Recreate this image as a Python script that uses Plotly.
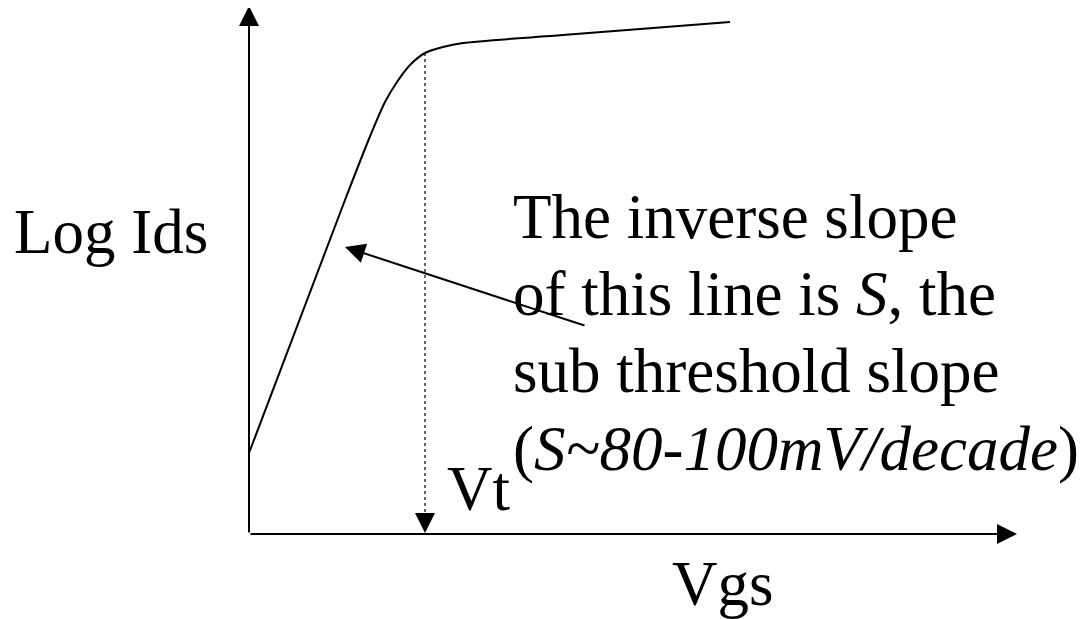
import plotly.graph_objects as go

# Schematic data (pixel-like units, origin at the axes corner)
vgs = [0, 96, 122, 136, 148, 161, 176, 194, 214, 314, 481]
log_ids = [81, 334, 400, 432, 452, 469, 481, 487, 491, 499, 512]
vt_x = 176
vt_top = 481

x_axis_end = 768
y_axis_end = 528

FONT = "Liberation Serif, Times New Roman, serif"
FS = 63
OX, OY = 249, 534   # page pixel position of origin
PAGE_OFF = 8        # default body margin of the html page
W, H = 1086 - PAGE_OFF, 619 - PAGE_OFF


def px(xp):
    return xp - OX


def py(yp):
    return OY - yp


fig = go.Figure()

# main curve
fig.add_trace(go.Scatter(x=vgs, y=log_ids, mode="lines",
                         line=dict(color="black", width=2, shape="spline", smoothing=0.8),
                         hoverinfo="skip"))
# dotted Vt line
fig.add_trace(go.Scatter(x=[vt_x, vt_x], y=[vt_top, 20], mode="lines",
                         line=dict(color="black", width=1.2, dash="dot"),
                         hoverinfo="skip"))

ann = []
arrow_common = dict(xref="x", yref="y", axref="x", ayref="y", text="",
                    showarrow=True, arrowhead=2, arrowsize=2, arrowwidth=2,
                    arrowcolor="black", standoff=0, startstandoff=0)
# y axis
ann.append(dict(x=0, y=y_axis_end, ax=0, ay=0, **arrow_common))
# x axis
ann.append(dict(x=x_axis_end, y=0, ax=0, ay=0, **arrow_common))
# Vt arrow head
ann.append(dict(x=vt_x, y=1, ax=vt_x, ay=22, **arrow_common))
# pointer arrow
ann.append(dict(x=px(345), y=py(247), ax=px(586), ay=py(326), **arrow_common))


def label(text, left, baseline):
    return dict(x=px(left), y=py(baseline - 21.3), xref="x", yref="y",
                text=text, showarrow=False, xanchor="left", yanchor="middle",
                font=dict(family=FONT, size=FS, color="black"))


ann.append(label("Log Ids", 12, 253))
ann.append(label("The inverse slope", 511, 238))
ann.append(label("of this line is <i>S</i>, the", 511, 315))
ann.append(label("sub threshold slope", 511, 392))
ann.append(label("(<i>S~80-100mV/decade</i>)", 511, 470))
ann.append(label("Vt", 445, 510))
ann.append(label("Vgs", 670, 605))

fig.update_layout(
    width=W, height=H,
    margin=dict(l=0, r=0, t=0, b=0),
    paper_bgcolor="white", plot_bgcolor="white",
    showlegend=False,
    annotations=ann,
    xaxis=dict(range=[-(OX - PAGE_OFF), W - (OX - PAGE_OFF)], visible=False, fixedrange=True),
    yaxis=dict(range=[(OY - PAGE_OFF) - H, OY - PAGE_OFF], visible=False, fixedrange=True),
)

fig.write_html("out.html")
